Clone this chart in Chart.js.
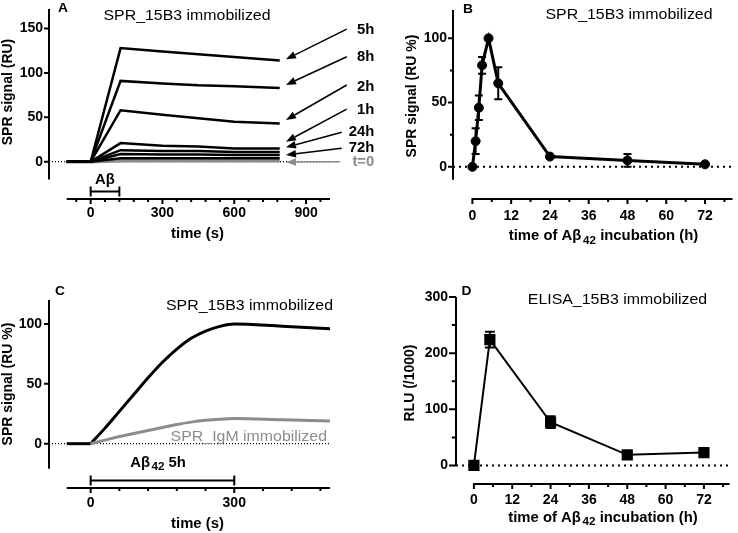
<!DOCTYPE html>
<html>
<head>
<meta charset="utf-8">
<script src="https://cdn.jsdelivr.net/npm/chart.js@4.4.1/dist/chart.umd.min.js"></script>
<style>
  body { margin: 0; background: #fff; width: 738px; height: 533px; position: relative; overflow: hidden; }
  canvas { position: absolute; }
</style>
</head>
<body>
<canvas id="panelA" width="380" height="266" style="left:0;top:0"></canvas>
<canvas id="panelB" width="368" height="266" style="left:370px;top:0"></canvas>
<canvas id="panelC" width="370" height="267" style="left:0;top:266px"></canvas>
<canvas id="panelD" width="368" height="267" style="left:370px;top:266px"></canvas>
<script>
// A: SPR sensorgrams (RU) for each Aβ42 pre-incubation time
const timeA = [-100, 0, 125, 300, 450, 600, 790];
const trace5h = [0, 0, 128, 124, 121, 118, 114];
const trace8h = [0, 0, 91, 88, 86, 85, 83];
const trace2h = [0, 0, 58, 53, 49, 45, 43];
const trace1h = [0, 0, 21, 18, 17, 15, 15];
const trace24h = [0, 0, 13, 12, 12, 11, 11];
const trace72h = [0, 0, 8.7, 8, 8, 7.5, 7.5];
const traceUnlabeled = [0, 0, 4, 4, 4, 4, 4];
const trace0h = [0, 0, 1, 1, 1, 1, 1];
const ticksAx = [0, 300, 600, 900];
const ticksAy = [0, 50, 100, 150];

// B: SPR signal (% of max) vs incubation time
const hoursB = [0, 1, 2, 3, 5, 8, 24, 48, 72];
const sprPct = [0, 20, 46, 79, 100, 65, 8, 5, 2];
const sprErr = [0, 10, 9.5, 6.5, 0, 12.5, 0, 5, 0];
const ticksBx = [0, 12, 24, 36, 48, 60, 72];
const ticksBy = [0, 50, 100];

// C: 5h sample on 15B3 vs IgM surface (baseline before t=0, then association)
const baseTimeC = [-50, 0];
const baseC = [0, 0];
const timeC = [0, 30, 60, 90, 120, 150, 180, 210, 240, 270, 300, 400, 500];
const spr15B3 = [0, 13, 27, 41, 55, 68, 79, 88, 94, 98, 100, 98, 96];
const sprIgM = [0, 3, 6, 8.5, 11, 13.5, 16, 18, 19.5, 20.5, 21, 20, 19];
const ticksCx = [0, 300];
const ticksCy = [0, 50, 100];

// D: ELISA
const hoursD = [0, 5, 24, 48, 72];
const rlu = [0, 224, 77, 19, 23];
const rluErr = [0, 14, 10.5, 5, 3];
const ticksDx = [0, 12, 24, 36, 48, 60, 72];
const ticksDy = [0, 100, 200, 300];

const FONT = "'Liberation Sans', Arial, sans-serif";
const GRAY = '#8c8c8c';

function xy(xs, ys) {
  return xs.map((v, i) => ({ x: v, y: ys[i] }));
}

function drawRich(ctx, it) {
  const parts = it.parts || [[it.t, it.size || 14, 0]];
  const weight = it.weight || 'bold';
  ctx.save();
  ctx.translate(it.x, it.y);
  if (it.rot) ctx.rotate(-Math.PI / 2);
  else ctx.scale(it.sx || 1.06, 1); // source figure is slightly stretched horizontally
  ctx.fillStyle = it.color || '#000';
  ctx.textBaseline = 'middle';
  ctx.textAlign = 'left';
  const widths = parts.map(p => {
    ctx.font = `${weight} ${p[1]}px ${FONT}`;
    return ctx.measureText(p[0]).width;
  });
  const total = widths.reduce((a, b) => a + b, 0);
  let cx = it.align === 'right' ? -total : it.align === 'left' ? 0 : -total / 2;
  parts.forEach((p, i) => {
    ctx.font = `${weight} ${p[1]}px ${FONT}`;
    ctx.fillText(p[0], cx, p[2] || 0);
    cx += widths[i];
  });
  ctx.restore();
}

// axes drawn Prism-style (offset x axis), labels, arrows, brackets, error bars
function decor(cfg) {
  return {
    id: 'decor',
    beforeDatasetsDraw(chart) {
      const { ctx, scales: { x, y } } = chart;
      ctx.save();
      if (cfg.zero) {
        ctx.setLineDash(cfg.zero.dash);
        ctx.lineWidth = cfg.zero.width;
        ctx.strokeStyle = '#000';
        ctx.beginPath();
        ctx.moveTo(x.getPixelForValue(cfg.zero.from), y.getPixelForValue(0));
        ctx.lineTo(x.getPixelForValue(cfg.zero.to), y.getPixelForValue(0));
        ctx.stroke();
        ctx.setLineDash([]);
      }
      if (cfg.err) {
        const e = cfg.err;
        ctx.lineWidth = 2;
        ctx.strokeStyle = '#000';
        e.xs.forEach((xv, i) => {
          if (!e.errs[i]) return;
          const px = x.getPixelForValue(xv);
          const lo = y.getPixelForValue(e.ys[i] - e.errs[i]);
          const hi = y.getPixelForValue(e.ys[i] + e.errs[i]);
          ctx.beginPath();
          ctx.moveTo(px, lo); ctx.lineTo(px, hi);
          ctx.moveTo(px - e.cap, lo); ctx.lineTo(px + e.cap, lo);
          ctx.moveTo(px - e.cap, hi); ctx.lineTo(px + e.cap, hi);
          ctx.stroke();
        });
      }
      ctx.restore();
    },
    afterDatasetsDraw(chart) {
      const { ctx, chartArea, scales: { x, y } } = chart;
      const L = chartArea.left, B = chartArea.bottom;
      ctx.save();
      ctx.strokeStyle = '#000';
      ctx.lineWidth = 2;
      ctx.beginPath();
      // y axis
      const ya = cfg.yAxis;
      ctx.moveTo(L, y.getPixelForValue(ya.from));
      ctx.lineTo(L, y.getPixelForValue(ya.to));
      ya.major.forEach(v => { const p = y.getPixelForValue(v); ctx.moveTo(L, p); ctx.lineTo(L - ya.len, p); });
      if (ya.step) {
        for (let v = Math.ceil(ya.from / ya.step) * ya.step; v <= ya.to; v += ya.step) {
          if (ya.major.includes(v)) continue;
          const p = y.getPixelForValue(v); ctx.moveTo(L, p); ctx.lineTo(L - ya.len * 0.6, p);
        }
      }
      // x axis
      const xa = cfg.xAxis;
      ctx.moveTo(x.getPixelForValue(xa.from), B);
      ctx.lineTo(x.getPixelForValue(xa.to), B);
      xa.major.forEach(v => { const p = x.getPixelForValue(v); ctx.moveTo(p, B); ctx.lineTo(p, B + xa.len); });
      for (let v = Math.ceil(xa.from / xa.step) * xa.step; v <= xa.to; v += xa.step) {
        if (xa.major.includes(v)) continue;
        const p = x.getPixelForValue(v); ctx.moveTo(p, B); ctx.lineTo(p, B + xa.len * 0.6);
      }
      ctx.stroke();
      // brackets under the plot
      (cfg.brackets || []).forEach(b => {
        const a = x.getPixelForValue(b.from), c = x.getPixelForValue(b.to);
        ctx.beginPath();
        ctx.moveTo(a, b.y); ctx.lineTo(c, b.y);
        ctx.moveTo(a, b.y - b.h); ctx.lineTo(a, b.y + b.h);
        ctx.moveTo(c, b.y - b.h); ctx.lineTo(c, b.y + b.h);
        ctx.stroke();
      });
      // arrows with labels
      (cfg.arrows || []).forEach(a => {
        const x1 = x.getPixelForValue(a.tail[0]), y1 = y.getPixelForValue(a.tail[1]);
        const x2 = x.getPixelForValue(a.tip[0]), y2 = y.getPixelForValue(a.tip[1]);
        const ang = Math.atan2(y2 - y1, x2 - x1);
        const head = 10, hw = 3.8;
        const bx = x2 - head * Math.cos(ang), by = y2 - head * Math.sin(ang);
        const col = a.gray ? GRAY : '#000';
        ctx.strokeStyle = col; ctx.fillStyle = col; ctx.lineWidth = 1.5;
        ctx.beginPath(); ctx.moveTo(x1, y1); ctx.lineTo(bx, by); ctx.stroke();
        ctx.beginPath();
        ctx.moveTo(x2, y2);
        ctx.lineTo(bx + hw * Math.sin(ang), by - hw * Math.cos(ang));
        ctx.lineTo(bx - hw * Math.sin(ang), by + hw * Math.cos(ang));
        ctx.closePath(); ctx.fill();
        drawRich(ctx, { t: a.label, x: x.getPixelForValue(cfg.arrowLabelX), y: y.getPixelForValue(a.labelY), align: 'right', color: col });
      });
      (cfg.texts || []).forEach(t => drawRich(ctx, t));
      ctx.restore();
    }
  };
}

function scales(g) {
  const fit = s => { s.paddingTop = 0; s.paddingBottom = 0; s.paddingLeft = 0; s.paddingRight = 0; };
  return {
    x: {
      type: 'linear', min: g.xMin, max: g.xMax,
      grid: { display: false, drawTicks: false }, border: { display: false },
      ticks: { padding: g.xPad, color: '#000', font: { family: FONT, size: 14, weight: 'bold' }, maxRotation: 0, autoSkip: false },
      afterBuildTicks: s => { s.ticks = g.xTicks.map(v => ({ value: v })); },
      afterFit: s => { s.height = g.xH; fit(s); }
    },
    y: {
      type: 'linear', min: g.yMin, max: g.yMax,
      grid: { display: false, drawTicks: false }, border: { display: false },
      ticks: { padding: g.yPad, color: '#000', font: { family: FONT, size: 14, weight: 'bold' }, autoSkip: false },
      afterBuildTicks: s => { s.ticks = g.yTicks.map(v => ({ value: v })); },
      afterFit: s => { s.width = g.yW; fit(s); }
    }
  };
}

function baseOptions(g) {
  return {
    responsive: false, animation: false, devicePixelRatio: 1,
    layout: { padding: { top: g.top, right: g.right, left: 0, bottom: 0 } },
    plugins: { legend: { display: false }, tooltip: { enabled: false } },
    scales: scales(g)
  };
}

const xLabelParts = [['time of A\u03b2', 14, 0], [' ', 6, 0], ['42', 11, 4], [' incubation (h)', 14, 0]];

// Panel A
const blackTraces = [trace5h, trace8h, trace2h, trace1h, trace24h, trace72h, traceUnlabeled];
new Chart(document.getElementById('panelA'), {
  type: 'line',
  data: {
    datasets: blackTraces.map(t => ({
      data: xy(timeA, t), borderColor: '#000', borderWidth: 2.5, pointRadius: 0
    })).concat([{ data: xy(timeA, trace0h), borderColor: GRAY, borderWidth: 3.5, pointRadius: 0 }])
  },
  options: baseOptions({ xMin: -174, xMax: 1000, yMin: -42, yMax: 172, xTicks: ticksAx, yTicks: ticksAy,
    xH: 67, yW: 49, top: 9, right: 50, xPad: 6, yPad: 6 }),
  plugins: [decor({
    zero: { from: -174, to: 1000, dash: [1, 2], width: 1.2 },
    yAxis: { from: -20, to: 172, major: ticksAy, len: 5 },
    xAxis: { from: -100, to: 1000, major: ticksAx, step: 60, len: 5 },
    brackets: [{ from: 0, to: 120, y: 191.5, h: 5 }],
    arrowLabelX: 1185,
    arrows: [
      { label: '5h', tip: [816, 115.3], tail: [1070, 149.4], labelY: 148.3 },
      { label: '8h', tip: [816, 86.4], tail: [1070, 118.2], labelY: 117.6 },
      { label: '2h', tip: [816, 47], tail: [1070, 86.4], labelY: 84.5 },
      { label: '1h', tip: [816, 22.5], tail: [1070, 59.3], labelY: 58.2 },
      { label: '24h', tip: [816, 16.2], tail: [1049, 33.1], labelY: 33.8 },
      { label: '72h', tip: [816, 7.5], tail: [1049, 15.1], labelY: 15.1 },
      { label: 't=0', tip: [816, -0.5], tail: [1042, 0], labelY: 0, gray: true }
    ],
    texts: [
      { t: 'A', x: 63, y: 8, size: 13 },
      { t: 'SPR_15B3 immobilized', x: 187, y: 16, size: 15, weight: 'normal' },
      { t: 'SPR signal (RU)', x: 8, y: 92, rot: true },
      { t: 'time (s)', x: 197.5, y: 234.5 },
      { t: 'A\u03b2', x: 105, y: 180 }
    ]
  })]
});

// Panel B
new Chart(document.getElementById('panelB'), {
  type: 'line',
  data: {
    datasets: [{
      data: xy(hoursB, sprPct), borderColor: '#000', borderWidth: 3,
      pointRadius: 4.5, pointBackgroundColor: '#000', pointBorderColor: '#000', pointBorderWidth: 1
    }]
  },
  options: baseOptions({ xMin: -6, xMax: 80.5, yMin: -25, yMax: 122, xTicks: ticksBx, yTicks: ticksBy,
    xH: 67, yW: 83, top: 10, right: 2, xPad: 9, yPad: 6 }),
  plugins: [decor({
    zero: { from: -6, to: 80.5, dash: [2, 4], width: 2 },
    err: { xs: hoursB, ys: sprPct, errs: sprErr, cap: 4 },
    yAxis: { from: -10, to: 122, major: ticksBy, step: 25, len: 5 },
    xAxis: { from: -0.3, to: 80.5, major: ticksBx, step: 6, len: 5 },
    texts: [
      { t: 'B', x: 98, y: 9, size: 13 },
      { t: 'SPR_15B3 immobilized', x: 259, y: 15, size: 15, weight: 'normal' },
      { t: 'SPR signal (RU %)', x: 42.5, y: 96, rot: true },
      { parts: xLabelParts, x: 233.5, y: 236.5 }
    ]
  })]
});

// Panel C
const monotone = { pointRadius: 0, borderWidth: 3, cubicInterpolationMode: 'monotone' };
new Chart(document.getElementById('panelC'), {
  type: 'line',
  data: {
    datasets: [
      { ...monotone, data: xy(timeC, sprIgM), borderColor: GRAY },
      { ...monotone, data: xy(baseTimeC, baseC), borderColor: '#000' },
      { ...monotone, data: xy(timeC, spr15B3), borderColor: '#000' }
    ]
  },
  options: baseOptions({ xMin: -87, xMax: 500, yMin: -37, yMax: 120, xTicks: ticksCx, yTicks: ticksCy,
    xH: 45, yW: 49, top: 34, right: 40, xPad: 7, yPad: 7 }),
  plugins: [decor({
    zero: { from: -87, to: 500, dash: [1, 2], width: 1.2 },
    yAxis: { from: -21, to: 120, major: ticksCy, len: 5 },
    xAxis: { from: -50, to: 500, major: ticksCx, step: 60, len: 5 },
    brackets: [{ from: 0, to: 300, y: 214.5, h: 5 }],
    texts: [
      { t: 'C', x: 60, y: 25.5, size: 13 },
      { t: 'SPR_15B3 immobilized', x: 333, y: 39.5, size: 15, weight: 'normal', align: 'right' },
      { t: 'SPR_IgM immobilized', x: 327, y: 170.5, size: 15, weight: 'normal', align: 'right', color: GRAY },
      { t: 'SPR signal (RU %)', x: 8, y: 118, rot: true },
      { t: 'time (s)', x: 197.5, y: 258 },
      { parts: [['A\u03b2', 14, 0], [' ', 5, 0], ['42', 11, 4], [' 5h', 14, 0]], x: 158, y: 197 }
    ]
  })]
});

// Panel D
new Chart(document.getElementById('panelD'), {
  type: 'line',
  data: {
    datasets: [{
      data: xy(hoursD, rlu), borderColor: '#000', borderWidth: 2,
      pointStyle: 'rect', pointRadius: 6.5, pointBackgroundColor: '#000', pointBorderColor: '#000'
    }]
  },
  options: baseOptions({ xMin: -5.6, xMax: 80, yMin: -33, yMax: 300, xTicks: ticksDx, yTicks: ticksDy,
    xH: 49, yW: 86, top: 31, right: 2, xPad: 7.5, yPad: 8 }),
  plugins: [decor({
    zero: { from: -5.6, to: 80, dash: [2, 4], width: 2 },
    err: { xs: hoursD, ys: rlu, errs: rluErr, cap: 5 },
    yAxis: { from: 0, to: 300, major: ticksDy, step: 50, len: 7 },
    xAxis: { from: -0.3, to: 80, major: ticksDx, step: 6, len: 5 },
    texts: [
      { t: 'D', x: 96.5, y: 25.5, size: 13 },
      { t: 'ELISA_15B3 immobilized', x: 247.5, y: 34, size: 15, weight: 'normal' },
      { t: 'RLU (/1000)', x: 40, y: 117, rot: true },
      { parts: xLabelParts, x: 233, y: 252 }
    ]
  })]
});
</script>
</body>
</html>
